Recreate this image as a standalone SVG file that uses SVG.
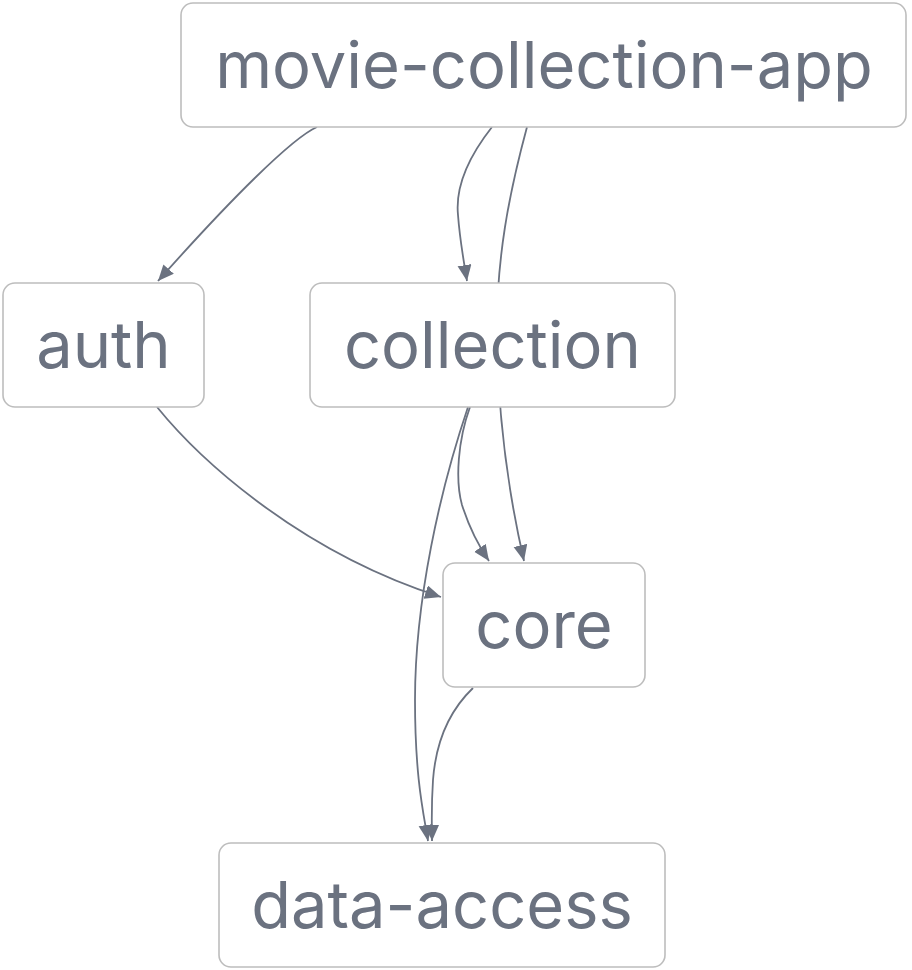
<svg xmlns="http://www.w3.org/2000/svg" width="912" height="970" viewBox="0 0 912 970">
<style>
.node rect{fill:#ffffff;stroke:#bdbdbd;stroke-width:1.6}
.node text{font-family:Inter,"Noto Sans","Liberation Sans",sans-serif;font-size:65px;fill:#6b7280;text-anchor:middle}
.edge{fill:none;stroke:#6b7280;stroke-width:1.8}
</style>
<defs>
<marker id="arr" markerWidth="18" markerHeight="16" refX="16" refY="7" orient="auto" markerUnits="userSpaceOnUse">
<path d="M0,0 L16,7 L0,14 z" fill="#6b7280"/>
</marker>
</defs>
<g id="connectors">
<path class="edge" d="M317,127 C292,138 230,200 158,281" marker-end="url(#arr)"/>
<path class="edge" d="M492,127 C470,155 455,185 458,215 C460,242 464,262 467,281" marker-end="url(#arr)"/>
<path class="edge" d="M527,127 C510,190 495,260 497,345 C499,430 510,500 524,561" marker-end="url(#arr)"/>
<path class="edge" d="M157,407 C200,460 300,552 441,597" marker-end="url(#arr)"/>
<path class="edge" d="M470,407 C458,440 455,480 462,505 C470,530 478,545 489,561" marker-end="url(#arr)"/>
<path class="edge" d="M468,407 C440,490 415,600 415,700 C415,780 424,815 428,841" marker-end="url(#arr)"/>
<path class="edge" d="M473,688 C450,710 436,740 433,780 C431,810 432,828 432,841" marker-end="url(#arr)"/>
</g>
<g id="movie-collection-app" class="node"><rect x="181" y="3" width="725" height="124" rx="12"/><text x="544" y="88">movie-collection-app</text></g>
<g id="auth" class="node"><rect x="3" y="283" width="201" height="124" rx="12"/><text x="103.5" y="368">auth</text></g>
<g id="collection" class="node"><rect x="310" y="283" width="365" height="124" rx="12"/><text x="492.5" y="368">collection</text></g>
<g id="core" class="node"><rect x="443" y="563" width="202" height="124" rx="12"/><text x="544" y="648">core</text></g>
<g id="data-access" class="node"><rect x="219" y="843" width="446" height="124" rx="12"/><text x="442" y="928">data-access</text></g>
</svg>
